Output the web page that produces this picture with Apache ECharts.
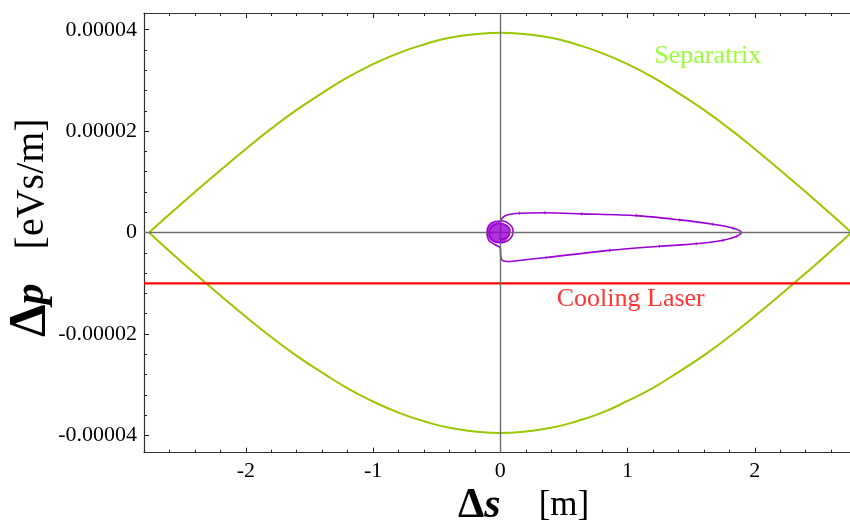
<!DOCTYPE html>
<html>
<head>
<meta charset="utf-8">
<script src="https://cdn.jsdelivr.net/npm/echarts@6/dist/echarts.min.js"></script>
<style>
  html, body { margin: 0; padding: 0; background: #ffffff; }
  #chart { width: 850px; height: 523px; }
</style>
</head>
<body>
<div id="chart"></div>
<script>
// Longitudinal phase space: separatrix, cooling-laser threshold and a damped trajectory.

// Separatrix (Δs in m, Δp in eVs/m)
const sepS     = [-2.76, -2.6, -2.4, -2.2, -2.0, -1.8, -1.6, -1.4, -1.2, -1.0, -0.8, -0.6, -0.4, -0.2, 0,
                   0.2, 0.4, 0.6, 0.8, 1.0, 1.2, 1.4, 1.6, 1.8, 2.0, 2.2, 2.4, 2.6, 2.76];
const sepUpper = [0, 0.36e-5, 0.80e-5, 1.23e-5, 1.65e-5, 2.05e-5, 2.42e-5, 2.75e-5, 3.06e-5, 3.32e-5, 3.54e-5, 3.71e-5, 3.84e-5, 3.91e-5, 3.94e-5,
                  3.91e-5, 3.84e-5, 3.71e-5, 3.54e-5, 3.32e-5, 3.06e-5, 2.75e-5, 2.42e-5, 2.05e-5, 1.65e-5, 1.23e-5, 0.80e-5, 0.36e-5, 0];
const sepLower = [0, -0.37e-5, -0.81e-5, -1.24e-5, -1.66e-5, -2.06e-5, -2.43e-5, -2.76e-5, -3.07e-5, -3.33e-5, -3.55e-5, -3.72e-5, -3.85e-5, -3.92e-5, -3.95e-5,
                  -3.92e-5, -3.85e-5, -3.72e-5, -3.55e-5, -3.32e-5, -3.06e-5, -2.75e-5, -2.42e-5, -2.05e-5, -1.65e-5, -1.23e-5, -0.80e-5, -0.36e-5, 0];

// Cooling laser momentum threshold
const laserP = -1.0e-5;
const laserS = [-2.8, 2.8];

// Particle trajectory: out along p > 0, back along p < 0, then spiralling into the centre
const trajS = [0.0, 0.02, 0.06, 0.15, 0.35, 0.64, 1.07, 1.41, 1.67, 1.83, 1.895,
               1.86, 1.75, 1.54, 1.25, 0.86, 0.36, 0.18, 0.06, 0.015, 0.003, 0.0,
               -0.04, -0.09, -0.105, -0.09, -0.04, 0.02, 0.07, 0.10, 0.09, 0.05, 0.0,
               -0.05, -0.08, -0.085, -0.06, -0.01, 0.04, 0.075, 0.07, 0.03, -0.01];
const trajP = [0.22e-5, 0.30e-5, 0.35e-5, 0.38e-5, 0.39e-5, 0.37e-5, 0.335e-5, 0.25e-5, 0.165e-5, 0.087e-5, 0,
               -0.07e-5, -0.15e-5, -0.22e-5, -0.27e-5, -0.35e-5, -0.49e-5, -0.54e-5, -0.57e-5, -0.55e-5, -0.46e-5, -0.30e-5,
               -0.24e-5, -0.15e-5, 0, 0.14e-5, 0.22e-5, 0.23e-5, 0.17e-5, 0.05e-5, -0.08e-5, -0.17e-5, -0.20e-5,
               -0.17e-5, -0.08e-5, 0.03e-5, 0.13e-5, 0.18e-5, 0.15e-5, 0.06e-5, -0.05e-5, -0.12e-5, -0.13e-5];
// Integration step markers along the trajectory
const stepS = [0.15, 0.35, 0.64, 1.07, 1.41, 1.67, 1.83, 1.86, 1.75, 1.54, 1.25, 0.86, 0.36];
const stepP = [0.38e-5, 0.39e-5, 0.37e-5, 0.335e-5, 0.25e-5, 0.165e-5, 0.087e-5,
               -0.07e-5, -0.15e-5, -0.22e-5, -0.27e-5, -0.35e-5, -0.49e-5];
// Final resting point of the particle
const restS = -0.015;
const restP = 0;

// Axis ticks
const xRange = [-2.8, 2.8];
const yRange = [-4.34e-5, 4.33e-5];
const xMajor = [-2, -1, 0, 1, 2];
const yMajor = [-4e-5, -2e-5, 0, 2e-5, 4e-5];
const xMinor = [];
for (let i = -14; i <= 14; i++) xMinor.push(Math.round(i * 2) / 10);
const yMinor = [];
for (let i = -10; i <= 10; i++) yMinor.push(Math.round(i * 4) / 1e6);

const SERIF = '"Liberation Serif", "Times New Roman", serif';
const FRAME = '#333333';
const SEP_COLOR = '#99c800';
const TRAJ_COLOR = '#9b00d2';

const zip = (a, b) => a.map((v, i) => [v, b[i]]);

function axisPair(kind, pos, range, major, minor, withLabels, fmt) {
  const base = {
    type: 'value', position: pos, min: range[0], max: range[1],
    splitLine: { show: false }, scale: false
  };
  return [
    Object.assign({}, base, {
      axisLine: { show: true, onZero: false, lineStyle: { color: FRAME, width: 1.2 } },
      axisTick: { show: true, inside: true, length: 5, customValues: major, lineStyle: { color: '#111', width: 1 } },
      axisLabel: withLabels
        ? { show: true, customValues: major, formatter: fmt, fontFamily: SERIF, fontSize: 22, color: '#000', margin: kind === 'x' ? 8 : 7 }
        : { show: false }
    }),
    Object.assign({}, base, {
      axisLine: { show: false, onZero: false },
      axisTick: { show: true, inside: true, length: 3, customValues: minor, lineStyle: { color: '#222', width: 1 } },
      axisLabel: { show: false }
    })
  ];
}

const xFmt = v => String(v);
const yFmt = v => (v === 0 ? '0' : v.toFixed(5));

const chart = echarts.init(document.getElementById('chart'), null, { renderer: 'canvas' });

chart.setOption({
  animation: false,
  backgroundColor: '#ffffff',
  grid: { left: 144, top: 13, width: 712.6, height: 439.7, containLabel: false, outerBoundsMode: 'none' },
  xAxis: [].concat(
    axisPair('x', 'bottom', xRange, xMajor, xMinor, true, xFmt),
    axisPair('x', 'top', xRange, xMajor, xMinor, false)
  ),
  yAxis: [].concat(
    axisPair('y', 'left', yRange, yMajor, yMinor, true, yFmt),
    axisPair('y', 'right', yRange, yMajor, yMinor, false)
  ),
  series: [
    {
      name: 'axes', type: 'line', data: [], silent: true,
      markLine: {
        silent: true, symbol: 'none', label: { show: false },
        lineStyle: { color: '#6f6f6f', width: 1.4, type: 'solid' },
        data: [{ xAxis: 0 }, { yAxis: 0 }]
      }
    },
    {
      name: 'Separatrix upper', type: 'line', data: zip(sepS, sepUpper), smooth: 0.5,
      showSymbol: false, lineStyle: { color: SEP_COLOR, width: 2 }, z: 3
    },
    {
      name: 'Separatrix lower', type: 'line', data: zip(sepS, sepLower), smooth: 0.5,
      showSymbol: false, lineStyle: { color: SEP_COLOR, width: 2 }, z: 3
    },
    {
      name: 'Cooling Laser', type: 'line', data: laserS.map(s => [s, laserP]),
      showSymbol: false, lineStyle: { color: '#ff0000', width: 2.2 }, z: 3
    },
    {
      name: 'Trajectory', type: 'line', data: zip(trajS, trajP), smooth: 0.3,
      showSymbol: false, lineStyle: { color: TRAJ_COLOR, width: 1.6 }, z: 4
    },
    {
      name: 'Steps', type: 'scatter', data: zip(stepS, stepP), symbol: 'rect',
      symbolSize: [1, 3.5], itemStyle: { color: TRAJ_COLOR, opacity: 0.7 }, silent: true, z: 4
    },
    {
      name: 'Rest', type: 'scatter', data: [[restS, restP]], symbol: 'circle',
      symbolSize: [23, 21], itemStyle: { color: TRAJ_COLOR }, z: 5
    },
    {
      name: 'labels', type: 'scatter', symbolSize: 0, silent: true, z: 6,
      data: [
        { value: [1.63, 3.47e-5], label: { formatter: 'Separatrix', color: '#80ff00' } },
        { value: [1.025, -1.31e-5], label: { formatter: 'Cooling Laser', color: '#ff0000' } }
      ],
      label: { show: true, position: 'inside', fontFamily: SERIF, fontSize: 26 }
    }
  ],
  graphic: [
    {
      type: 'text', x: 458, y: 506,
      style: {
        text: '{d|Δ}{s|s}{g|}{b|[m]}',
        align: 'left', verticalAlign: 'middle',
        rich: {
          d: { fontFamily: SERIF, fontSize: 42, fontWeight: 'bold', fill: '#000' },
          s: { fontFamily: SERIF, fontSize: 42, fontWeight: 'bold', fontStyle: 'italic', fill: '#000' },
          g: { width: 38 },
          b: { fontFamily: SERIF, fontSize: 35, fill: '#000' }
        }
      }
    },
    {
      type: 'text', x: 32, y: 337, rotation: Math.PI / 2,
      style: {
        text: '{d|Δ}{p|p}{g|}{b|[eVs/m]}',
        align: 'left', verticalAlign: 'middle',
        rich: {
          d: { fontFamily: SERIF, fontSize: 52, fontWeight: 'bold', fill: '#000' },
          p: { fontFamily: SERIF, fontSize: 42, fontWeight: 'bold', fontStyle: 'italic', fill: '#000' },
          g: { width: 34 },
          b: { fontFamily: SERIF, fontSize: 40, fill: '#000' }
        }
      }
    }
  ]
});
</script>
</body>
</html>
